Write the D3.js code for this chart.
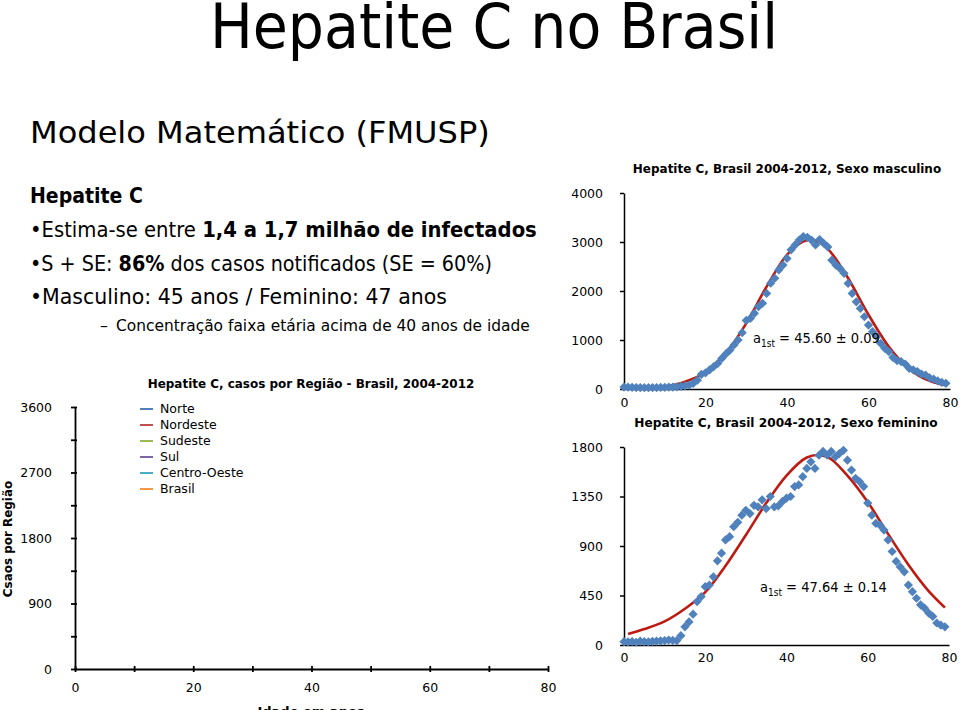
<!DOCTYPE html>
<html><head><meta charset="utf-8">
<script src="https://cdn.jsdelivr.net/npm/d3@7"></script>
<style>body{margin:0;background:#fff} svg{display:block}</style>
</head><body>
<svg id="c" width="960" height="710"></svg>
<script>
// ---------------- DATA ----------------
const ages = d3.range(0, 80);
const maleCases = [40,38,35,30,30,28,28,30,30,32,35,38,40,45,55,65,80,115,180,300,
  330,390,455,520,625,715,795,900,1000,1150,1400,1440,1545,1680,1750,1950,2160,2260,2430,2530,
  2665,2840,2940,3040,3110,3095,3040,2940,3050,2975,2900,2630,2530,2460,2360,2155,1950,1780,1645,1475,
  1305,1170,1070,930,830,760,645,580,560,510,420,390,355,305,285,230,200,165,135,115];
const femaleCases = [30,28,32,25,35,30,28,33,35,38,40,45,42,40,85,165,210,280,395,440,
  530,545,620,765,835,955,985,1075,1115,1180,1225,1195,1270,1255,1320,1240,1350,1255,1265,1305,
  1335,1350,1440,1455,1530,1605,1665,1605,1725,1760,1725,1760,1710,1740,1770,1680,1590,1515,1485,1440,
  1290,1180,1105,1090,1045,955,850,760,710,665,545,485,425,365,335,290,260,200,180,165];
const maleFitAges   = [0,5,10,15,20,25,30,35,40,45,45.6,50,55,60,65,70,75,79];
const maleFitValues = [5,15,50,150,340,730,1340,2090,2740,3040,3050,2860,2260,1515,860,410,165,75];
const femaleFitAges   = [1,5,10,15,20,25,30,35,40,45,47.6,50,55,60,65,70,75,79];
const femaleFitValues = [100,145,215,330,480,720,1000,1290,1540,1705,1727,1710,1540,1300,1010,730,490,340];
const sexXTicks = [0,20,40,60,80];
const maleYTicks = [0,1000,2000,3000,4000];
const femaleYTicks = [0,450,900,1350,1800];
const regions = ["Norte","Nordeste","Sudeste","Sul","Centro-Oeste","Brasil"];
const regionColors = ["#4F81BD","#C0504D","#9BBB59","#8064A2","#4BACC6","#F79646"];
const regionSeries = [[],[],[],[],[],[]];
const regionXTicks = [0,10,20,30,40,50,60,70,80];
const regionYTicks = [0,450,900,1350,1800,2250,2700,3150,3600];
const maleLabel = "45.60 ± 0.09";
const femaleLabel = "47.64 ± 0.14";

// ---------------- HELPERS ----------------
const svg = d3.select("#c");
const FONT = "'DejaVu Sans', Verdana, sans-serif";
const BLUE = "#4F81BD", RED = "#BE1A12";

function fit(t, target){
  const w = t.node().getBBox().width;
  if (w > 0) {
    const s = target / w;
    const x = +t.attr("x") || 0, y = +t.attr("y") || 0;
    t.attr("transform", `translate(${x},${y}) scale(${s},1) translate(${-x},${-y})`);
  }
  return t;
}

// ---------------- SLIDE TEXT ----------------
fit(svg.append("text").attr("x", 494).attr("y", 48).attr("text-anchor","middle")
  .attr("font-family",FONT).attr("font-size",62)
  .text("Hepatite C no Brasil"), 568);

fit(svg.append("text").attr("x", 30).attr("y", 143)
  .attr("font-family",FONT).attr("font-size",31)
  .text("Modelo Matemático (FMUSP)"), 460);

fit(svg.append("text").attr("x",30).attr("y",203).attr("font-family",FONT)
  .attr("font-size",21).attr("font-weight","bold").text("Hepatite C"), 113);

let t = svg.append("text").attr("x",30).attr("y",237).attr("font-family",FONT).attr("font-size",21);
t.append("tspan").text("•Estima-se entre ");
t.append("tspan").attr("font-weight","bold").text("1,4 a 1,7 milhão de infectados");
fit(t, 507);

t = svg.append("text").attr("x",30).attr("y",271).attr("font-family",FONT).attr("font-size",21);
t.append("tspan").text("•S + SE: ");
t.append("tspan").attr("font-weight","bold").text("86%");
t.append("tspan").text(" dos casos notificados (SE = 60%)");
fit(t, 462);

fit(svg.append("text").attr("x",30).attr("y",304).attr("font-family",FONT).attr("font-size",21)
  .text("•Masculino: 45 anos / Feminino: 47 anos"), 417);

svg.append("text").attr("x",100).attr("y",331).attr("font-family",FONT).attr("font-size",16).text("–");
fit(svg.append("text").attr("x",116).attr("y",331).attr("font-family",FONT).attr("font-size",16)
  .text("Concentração faixa etária acima de 40 anos de idade"), 414);

// ---------------- SEX CHARTS ----------------
function sexChart(opt){
  const g = svg.append("g");
  const x = d3.scaleLinear([0,80],[opt.x0, opt.x1]);
  const y = d3.scaleLinear([0, opt.yMax],[opt.y0, opt.y1]);

  const ya = g.append("g").attr("transform",`translate(${opt.x0},0)`)
    .call(d3.axisLeft(y).tickValues(opt.yTicks).tickSize(4).tickSizeOuter(0).tickPadding(17).tickFormat(d3.format("d")));
  const xa = g.append("g").attr("transform",`translate(0,${opt.y0})`)
    .call(d3.axisBottom(x).tickValues(sexXTicks).tickSize(0).tickSizeOuter(0).tickPadding(opt.xPad));
  [ya, xa].forEach(a => {
    a.selectAll("text").attr("font-family",FONT).attr("font-size",12.5).attr("fill","#000");
    a.selectAll("path,line").attr("stroke","#000").attr("stroke-width",1.5);
  });

  g.append("path").datum(opt.fitAges.map((a,i)=>[a, opt.fitValues[i]]))
    .attr("fill","none").attr("stroke",RED).attr("stroke-width",2.6)
    .attr("d", d3.line().x(d=>x(d[0])).y(d=>y(d[1])).curve(d3.curveMonotoneX));

  g.append("g").selectAll("path").data(opt.values).join("path")
    .attr("transform",(d,i)=>`translate(${x(ages[i])},${y(d)})`)
    .attr("d","M0,-4.6L4.6,0L0,4.6L-4.6,0Z").attr("fill",BLUE);

  fit(g.append("text").attr("x",opt.titleX).attr("y",opt.titleY).attr("text-anchor","middle")
    .attr("font-family",FONT).attr("font-size",12.5).attr("font-weight","bold").text(opt.title), opt.titleW);

  const an = g.append("text").attr("x",opt.annX).attr("y",opt.annY).attr("font-family",FONT).attr("font-size",14.5);
  an.append("tspan").text("a");
  an.append("tspan").attr("font-size",10).attr("dy",4).text("1st");
  an.append("tspan").attr("dy",-4).text(" = " + opt.label);
  fit(an, 127);
}

sexChart({x0:624, x1:950, y0:389, y1:193, yMax:4000, yTicks:maleYTicks, xPad:9,
  values:maleCases, fitAges:maleFitAges, fitValues:maleFitValues,
  title:"Hepatite C, Brasil 2004-2012, Sexo masculino", titleX:787, titleY:173, titleW:309,
  annX:753, annY:343, label:maleLabel});

sexChart({x0:624, x1:949, y0:645, y1:447, yMax:1800, yTicks:femaleYTicks, xPad:8,
  values:femaleCases, fitAges:femaleFitAges, fitValues:femaleFitValues,
  title:"Hepatite C, Brasil 2004-2012, Sexo feminino", titleX:786, titleY:427, titleW:304,
  annX:760, annY:592, label:femaleLabel});

// ---------------- REGION CHART ----------------
(function(){
  const g = svg.append("g");
  const x = d3.scaleLinear([0,80],[75,548]);
  const y = d3.scaleLinear([0,3600],[669,407]);
  const ya = g.append("g").attr("transform","translate(75,0)")
    .call(d3.axisLeft(y).tickValues(regionYTicks).tickSize(4).tickSizeOuter(0).tickPadding(19)
      .tickFormat(d => d % 900 === 0 ? d : ""));
  ya.selectAll(".tick line").attr("x1",2).attr("x2",-4);
  const xa = g.append("g").attr("transform","translate(0,669)")
    .call(d3.axisBottom(x).tickValues(regionXTicks).tickSize(4).tickSizeOuter(0).tickPadding(10)
      .tickFormat(d => d % 20 === 0 ? d : ""));
  xa.selectAll(".tick line").attr("y1",-3).attr("y2",3);
  [ya, xa].forEach(a => {
    a.selectAll("text").attr("font-family",FONT).attr("font-size",12.5).attr("fill","#000");
    a.selectAll("path,line").attr("stroke","#000").attr("stroke-width",1.8);
  });

  regionSeries.forEach((s,i) => {
    g.append("path").datum(s).attr("fill","none").attr("stroke",regionColors[i]).attr("stroke-width",2)
      .attr("d", d3.line().x(d=>x(d[0])).y(d=>y(d[1])));
  });

  fit(g.append("text").attr("x",311).attr("y",388).attr("text-anchor","middle")
    .attr("font-family",FONT).attr("font-size",12.5).attr("font-weight","bold")
    .text("Hepatite C, casos por Região - Brasil, 2004-2012"), 327);

  const lg = g.append("g").selectAll("g").data(regions).join("g")
    .attr("transform",(d,i)=>`translate(140,${409 + i*16})`);
  lg.append("line").attr("x1",0).attr("x2",13).attr("stroke",(d,i)=>regionColors[i]).attr("stroke-width",2);
  lg.append("text").attr("x",20).attr("dy","0.35em").attr("font-family",FONT).attr("font-size",12.5)
    .attr("fill","#000").text(d=>d);

  const yl = g.append("g").attr("transform","translate(12,539) rotate(-90)");
  fit(yl.append("text").attr("x",0).attr("y",0).attr("text-anchor","middle")
    .attr("font-family",FONT).attr("font-size",12.5).attr("font-weight","bold").text("Csaos por Região"), 117);

  g.append("text").attr("x",311).attr("y",716).attr("text-anchor","middle")
    .attr("font-family",FONT).attr("font-size",13).attr("font-weight","bold").text("Idade em anos");
})();
</script>
</body></html>
